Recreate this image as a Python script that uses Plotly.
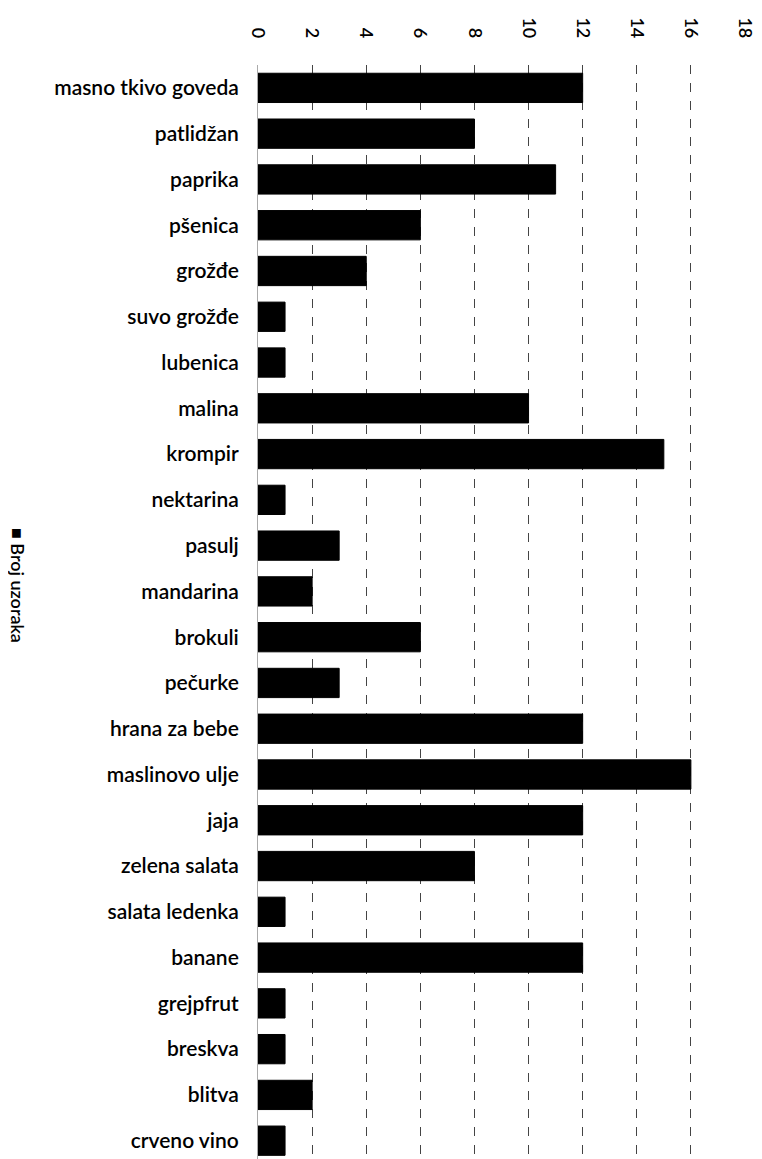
import plotly.graph_objects as go

categories = ["masno tkivo goveda", "patlidžan", "paprika", "pšenica", "grožđe",
              "suvo grožđe", "lubenica", "malina", "krompir", "nektarina", "pasulj",
              "mandarina", "brokuli", "pečurke", "hrana za bebe", "maslinovo ulje",
              "jaja", "zelena salata", "salata ledenka", "banane", "grejpfrut",
              "breskva", "blitva", "crveno vino"]
values = [12, 8, 11, 6, 4, 1, 1, 10, 15, 1, 3, 2, 6, 3, 12, 16, 12, 8, 1, 12, 1, 1, 2, 1]
tick_vals = [0, 2, 4, 6, 8, 10, 12, 14, 16, 18]
series_name = "Broj uzoraka"

W, H = 762, 1159
L, R, T, B = 250, 25, 57, 8

fig = go.Figure(go.Bar(
    x=values, y=categories, orientation="h", name=series_name,
    marker=dict(color="black", line=dict(color="black", width=1)),
    showlegend=False,
))

fig.update_layout(
    width=W, height=H,
    margin=dict(l=L, r=R, t=T, b=B, autoexpand=False),
    paper_bgcolor="white", plot_bgcolor="white",
    bargap=0.36,
    font=dict(family="Lato, Open Sans, sans-serif", size=21, color="black"),
    xaxis=dict(side="top", range=[0, 18], tickvals=tick_vals, tickangle=90,
               showgrid=True, gridcolor="#444", griddash="dash", gridwidth=1,
               zeroline=False, showline=False, ticks="", automargin=False,
               ticklabelstandoff=23,
               tickfont=dict(size=18, color="black", weight=600)),
    yaxis=dict(type="category", range=[23.4, -0.5], showgrid=False,
               showline=True, linecolor="#aaa", linewidth=1,
               ticks="", ticklabelstandoff=14, automargin=False,
               tickfont=dict(size=21, color="black", weight=600)),
    annotations=[dict(text="■ " + series_name,
                      x=(10 - L) / (W - L - R), y=1 - (585 - 8 - T) / (H - T - B),
                      xref="paper", yref="paper", xanchor="center", yanchor="middle",
                      showarrow=False, textangle=90,
                      font=dict(size=18, color="black", weight=600))],
)

fig.write_html("out.html")
